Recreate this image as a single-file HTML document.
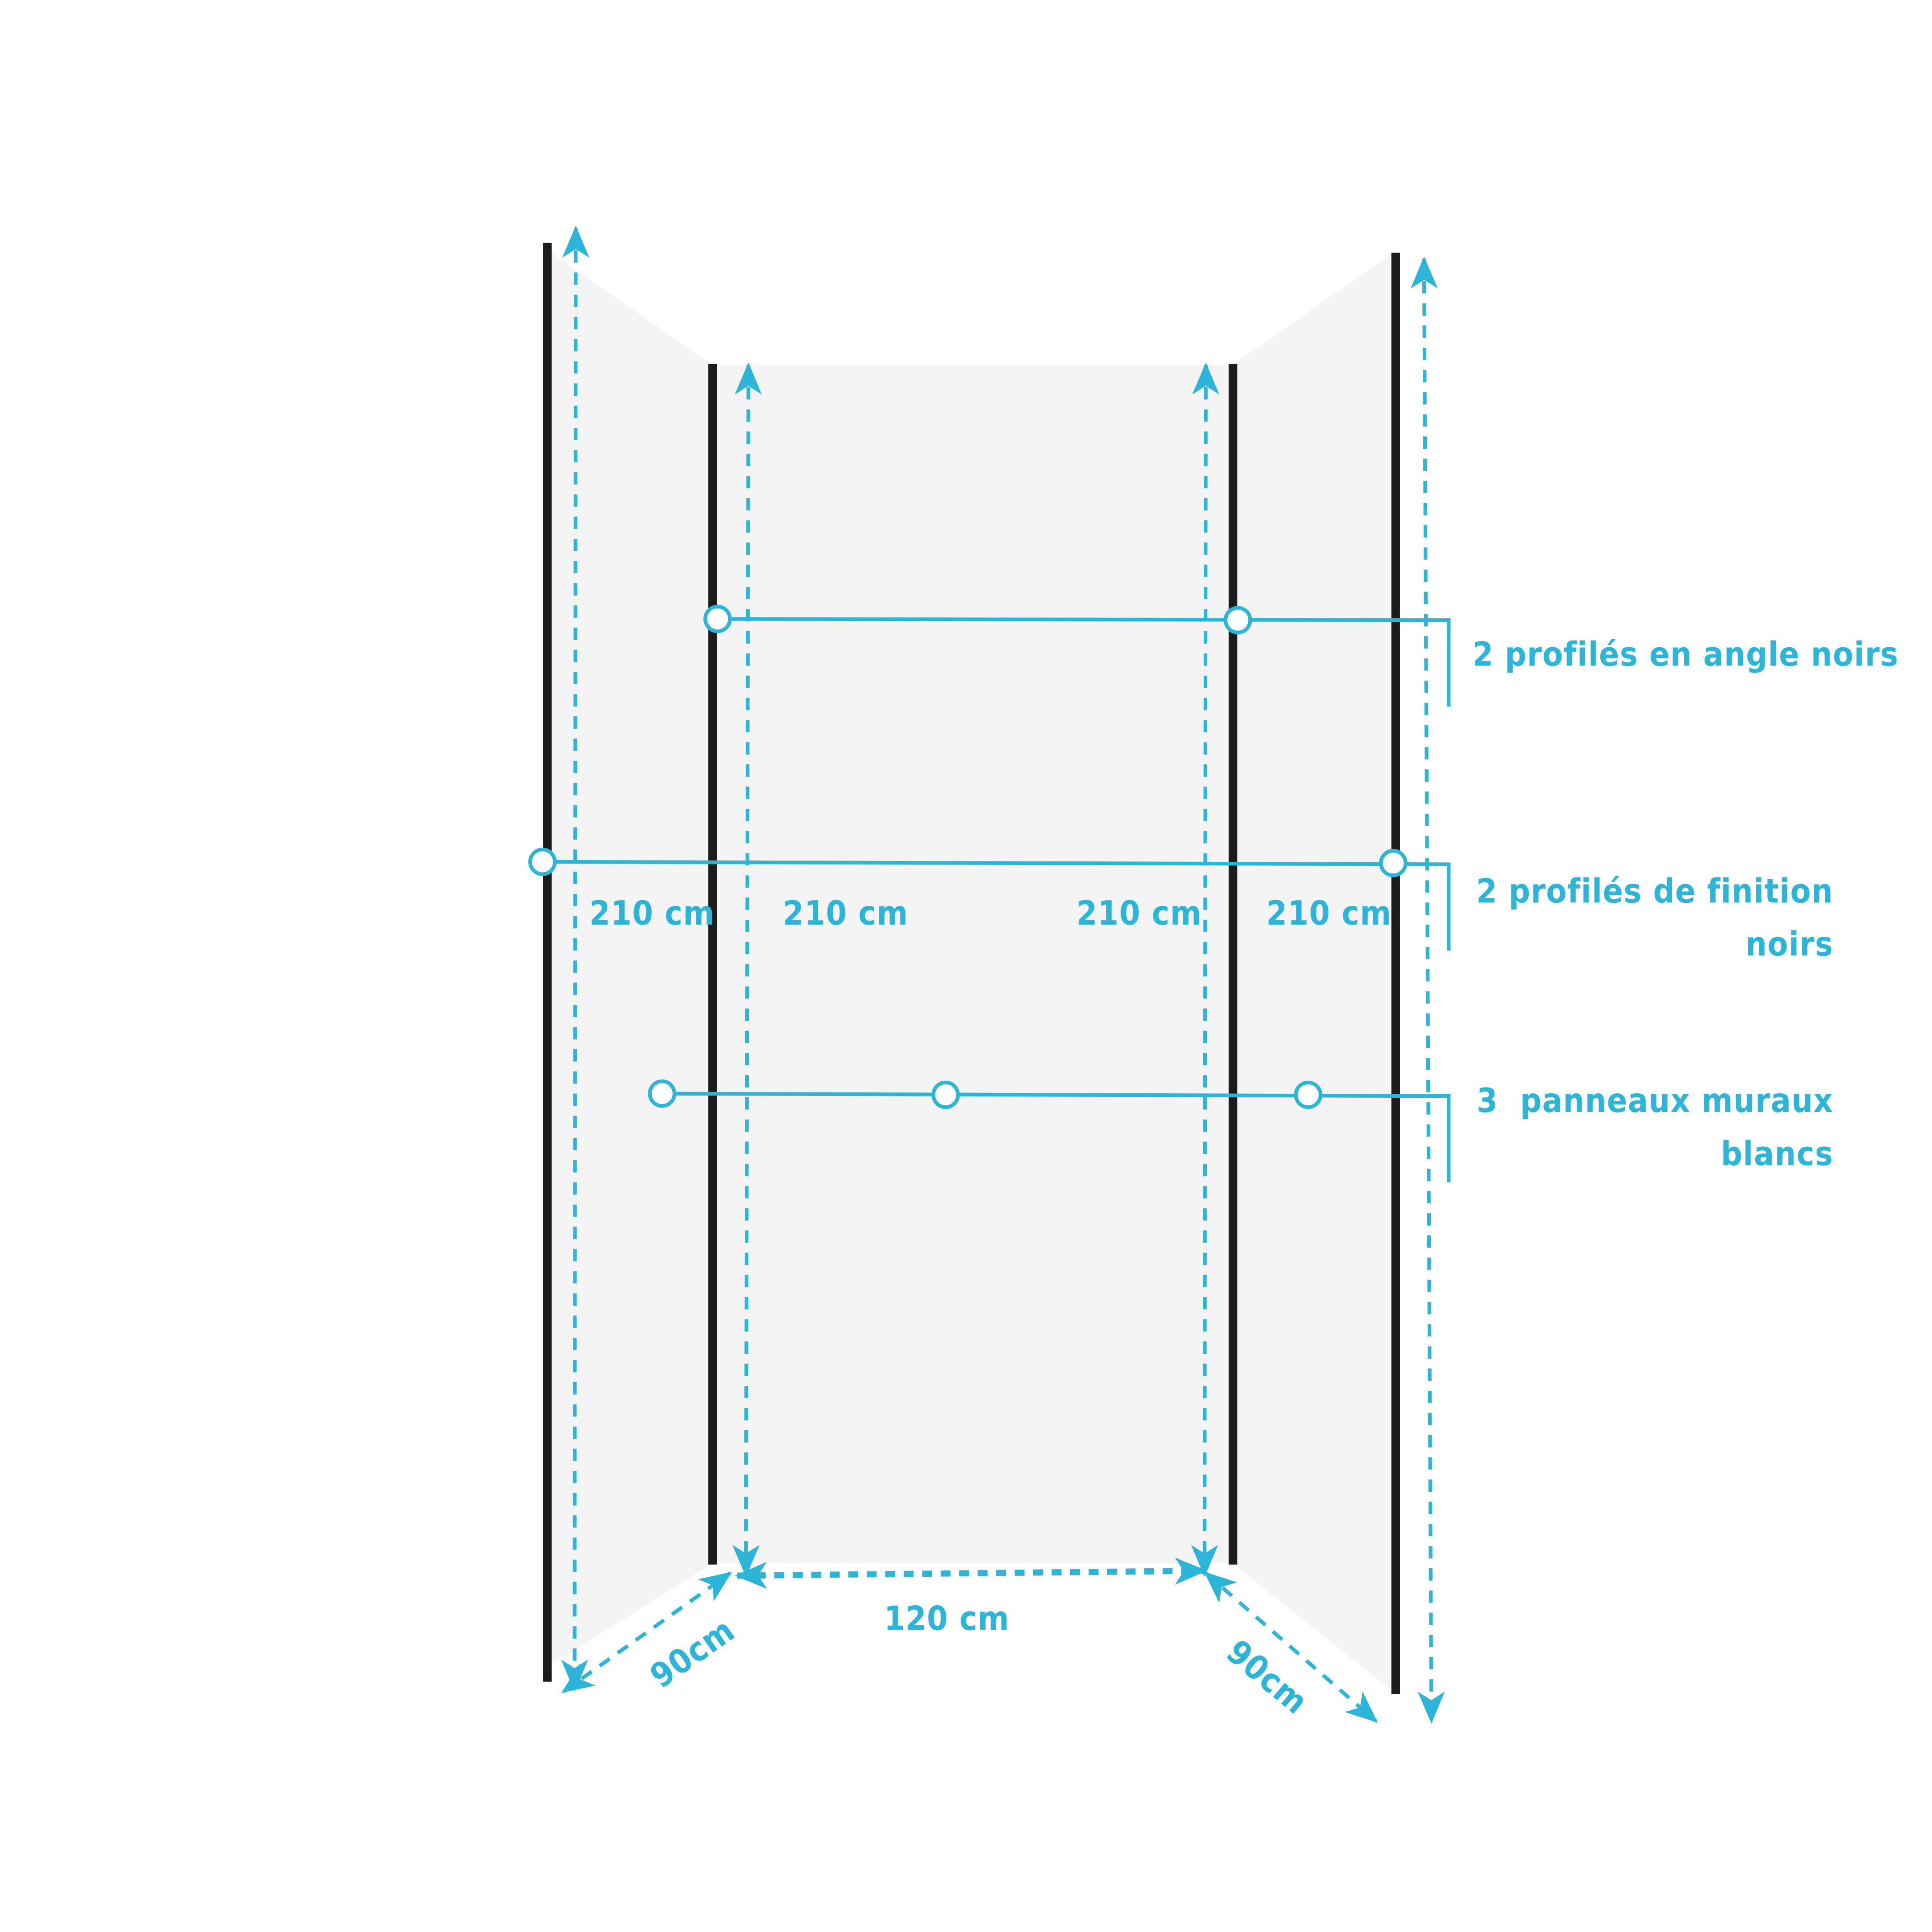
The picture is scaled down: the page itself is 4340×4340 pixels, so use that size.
<!DOCTYPE html>
<html><head><meta charset="utf-8"><style>
html,body{margin:0;padding:0;background:#fff}
svg{display:block}
text{font-family:"DejaVu Sans Condensed","Liberation Sans Narrow","Liberation Sans",sans-serif;font-weight:bold;fill:#2cb5d8;font-size:27px;letter-spacing:0.5px}
</style></head><body>
<svg width="4340" height="4340" viewBox="0 0 1567 1567" xmlns="http://www.w3.org/2000/svg">
<defs>
<marker id="ah" viewBox="0 0 26 22" refX="24" refY="11" markerWidth="26" markerHeight="22" markerUnits="userSpaceOnUse" orient="auto-start-reverse">
<path d="M0,0 L26,11 L0,22 L7,11 Z" fill="#2cb5d8"/>
</marker>
</defs>
<rect width="1567" height="1567" fill="#fff"/>
<polygon points="447,205 578,296 578,1268 447,1350" fill="#f4f4f4"/>
<polygon points="578,296 1000,296 1000,1268 578,1268" fill="#f4f4f4"/>
<polygon points="1000,296 1130,205 1130,1372 1000,1268" fill="#f4f4f4"/>
<g stroke="#1c1c1c" stroke-width="7">
<line x1="444" y1="197" x2="444" y2="1364"/>
<line x1="578" y1="295" x2="578" y2="1269"/>
<line x1="1000" y1="295" x2="1000" y2="1269"/>
<line x1="1132" y1="205" x2="1132" y2="1374"/>
</g>
<g stroke="#2cb5d8" stroke-width="3" stroke-dasharray="10,8" fill="none">
<line x1="467" y1="185" x2="466" y2="1370" marker-start="url(#ah)" marker-end="url(#ah)"/>
<line x1="607" y1="296" x2="605" y2="1277" marker-start="url(#ah)" marker-end="url(#ah)"/>
<line x1="978" y1="296" x2="977" y2="1277" marker-start="url(#ah)" marker-end="url(#ah)"/>
<line x1="1155" y1="210" x2="1161" y2="1396" marker-start="url(#ah)" marker-end="url(#ah)"/>
<line x1="598" y1="1278" x2="977" y2="1274" stroke-width="5" stroke-dasharray="8,7" marker-start="url(#ah)" marker-end="url(#ah)"/>
<line x1="457" y1="1372" x2="592" y2="1276" marker-start="url(#ah)" marker-end="url(#ah)"/>
<line x1="978" y1="1276" x2="1116" y2="1396" marker-start="url(#ah)" marker-end="url(#ah)"/>
</g>
<g stroke="#2cb5d8" stroke-width="3" fill="none">
<polyline points="582,502 1175,503 1175,573"/>
<polyline points="440,699 1175,701 1175,771"/>
<polyline points="537,887 1175,889 1175,959"/>
</g>
<g stroke="#2cb5d8" stroke-width="3" fill="#fff">
<circle cx="582" cy="502" r="10"/>
<circle cx="1004" cy="503" r="10"/>
<circle cx="440" cy="699" r="10"/>
<circle cx="1130" cy="700" r="10"/>
<circle cx="537" cy="887" r="10"/>
<circle cx="767" cy="888" r="10"/>
<circle cx="1061" cy="888" r="10"/>
</g>
<text x="478" y="750">210 cm</text>
<text x="635" y="750">210 cm</text>
<text x="873" y="750">210 cm</text>
<text x="1027" y="750">210 cm</text>
<text x="717" y="1322">120 cm</text>
<text x="0" y="0" transform="translate(536,1370) rotate(-35)">90cm</text>
<text x="0" y="0" transform="translate(993,1343) rotate(40)">90cm</text>
<text x="1540" y="540" text-anchor="end">2 profilés en angle noirs</text>
<text x="1487" y="732" text-anchor="end">2 profilés de finition</text>
<text x="1487" y="775" text-anchor="end">noirs</text>
<text x="1487" y="902" text-anchor="end" xml:space="preserve">3  panneaux muraux</text>
<text x="1487" y="945" text-anchor="end">blancs</text>
</svg>
</body></html>
